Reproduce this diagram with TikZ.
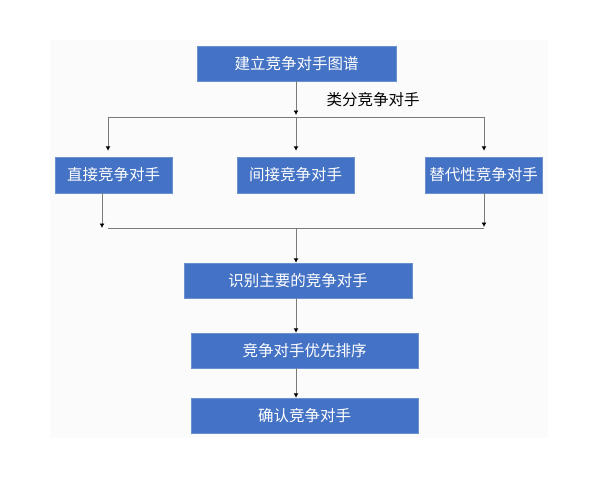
\documentclass[tikz,border=0pt]{standalone}
\usepackage{fontspec}
\newfontfamily\cjk{Noto Sans CJK SC}
\usetikzlibrary{arrows.meta}
\definecolor{boxblue}{HTML}{4472C4}
\definecolor{boxedge}{HTML}{6C8FCF}
\definecolor{linegray}{HTML}{7A7A7A}
\definecolor{panelgray}{HTML}{FBFBFB}

\begin{document}
\begin{tikzpicture}[x=1pt,y=-1pt,
    every node/.style={font=\cjk\fontsize{15.5}{18}\selectfont},
    stepbox/.style={draw=boxedge,fill=boxblue,text=white,inner sep=0pt,minimum height=35pt},
    arr/.style={draw=linegray,line width=0.9pt,-{Latex[black,length=4.5pt,width=5pt]}},
    wire/.style={draw=linegray,line width=0.9pt}]
    \useasboundingbox (0,0) rectangle (600,480);
    \fill[panelgray] (50,40) rectangle (548,438);

    % top of the chart
    \node[stepbox,minimum width=199pt] (map) at (296.5,63.5) {建立竞争对手图谱};
    \node (sortlabel) at (373,100) {类分竞争对手};

    % three kinds
    \node[stepbox,minimum width=117pt,minimum height=36pt] (direct) at (113.5,175) {直接竞争对手};
    \node[stepbox,minimum width=117pt,minimum height=36pt] (indirect) at (295.5,175) {间接竞争对手};
    \node[stepbox,minimum width=117pt,minimum height=36pt] (subst) at (483.5,175) {替代性竞争对手};

    % steps below
    \node[stepbox,minimum width=228pt] (main) at (298,280.5) {识别主要的竞争对手};
    \node[stepbox,minimum width=227pt] (rank) at (304.5,350.5) {竞争对手优先排序};
    \node[stepbox,minimum width=227pt] (confirm) at (304.5,415.5) {确认竞争对手};

    \coordinate (split) at (296,117);
    \coordinate (splitL) at (108,117);
    \coordinate (splitR) at (484,117);
    \coordinate (merge) at (296,228);
    \coordinate (mergeL) at (108,228);
    \coordinate (mergeR) at (484,228);
    \coordinate (dropL) at (102,228);

    \draw[arr,shorten >=2pt] (map.south -| split) -- (split);
    \draw[wire] (splitL) -- (splitR);
    \draw[arr,shorten >=6pt] (splitL) -- (direct.north -| splitL);
    \draw[arr,shorten >=6pt] (split) -- (indirect.north -| split);
    \draw[arr,shorten >=6pt] (splitR) -- (subst.north -| splitR);

    \draw[arr] (direct.south -| dropL) -- (dropL);
    \draw[arr,shorten >=1pt] (subst.south -| mergeR) -- (mergeR);
    \draw[wire] (mergeL) -- (mergeR);
    \draw[arr] (merge) -- (main.north -| merge);
    \draw[arr] (main.south -| merge) -- (rank.north -| merge);
    \draw[arr] (rank.south -| merge) -- (confirm.north -| merge);
\end{tikzpicture}
\end{document}
